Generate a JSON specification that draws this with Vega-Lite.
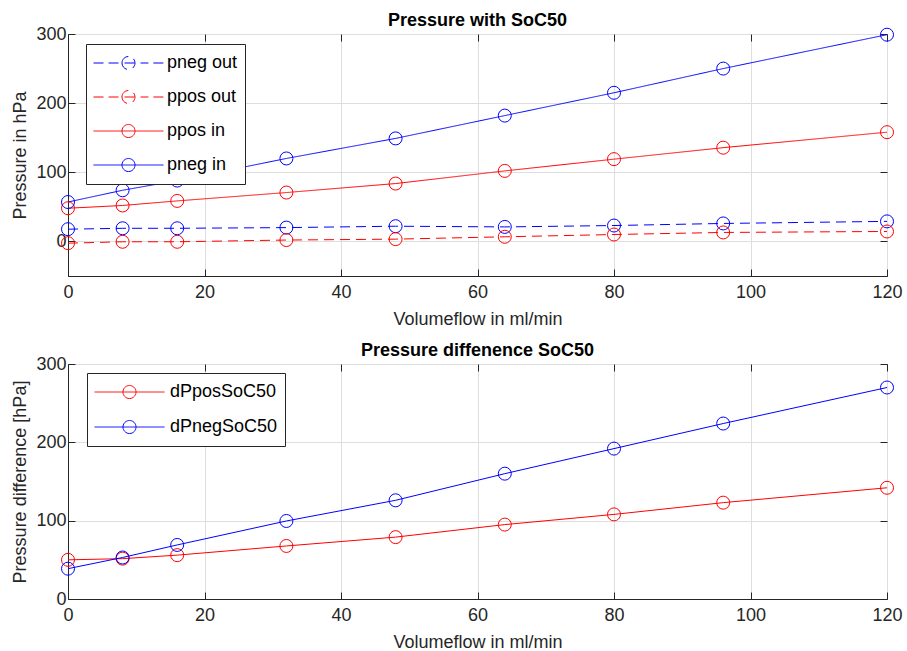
{
  "$schema": "https://vega.github.io/schema/vega-lite/v6.json",
  "padding": {"left": 11, "top": 11, "right": 2, "bottom": 0},
  "background": "white",
  "spacing": 12,
  "config": {
    "font": "Liberation Sans",
    "view": {"stroke": "#262626", "strokeWidth": 1},
    "axis": {
      "labelFont": "Liberation Sans", "labelFontSize": 18, "labelColor": "#262626",
      "titleFont": "Liberation Sans", "titleFontSize": 18, "titleFontWeight": "normal", "titleColor": "#262626",
      "domainColor": "#262626", "tickColor": "#262626", "tickSize": -7,
      "gridColor": "#dedede", "labelFlush": false, "titlePadding": 6
    },
    "axisX": {"labelPadding": 14.5, "titlePadding": 9},
    "axisY": {"labelPadding": 9, "titlePadding": 6},
    "title": {"font": "Liberation Sans", "fontSize": 18, "fontWeight": "bold", "color": "#000000", "offset": -5, "anchor": "middle"}
  },
  "datasets": {
    "top": [
      {"flow": 0, "series": "pneg out", "p": 17.7},
      {"flow": 8, "series": "pneg out", "p": 19},
      {"flow": 16, "series": "pneg out", "p": 19},
      {"flow": 32, "series": "pneg out", "p": 20},
      {"flow": 48, "series": "pneg out", "p": 22},
      {"flow": 64, "series": "pneg out", "p": 21},
      {"flow": 80, "series": "pneg out", "p": 23},
      {"flow": 96, "series": "pneg out", "p": 26},
      {"flow": 120, "series": "pneg out", "p": 29},
      {"flow": 0, "series": "ppos out", "p": -2.5},
      {"flow": 8, "series": "ppos out", "p": -0.5},
      {"flow": 16, "series": "ppos out", "p": -0.5},
      {"flow": 32, "series": "ppos out", "p": 2},
      {"flow": 48, "series": "ppos out", "p": 3.3},
      {"flow": 64, "series": "ppos out", "p": 6.7},
      {"flow": 80, "series": "ppos out", "p": 10},
      {"flow": 96, "series": "ppos out", "p": 13},
      {"flow": 120, "series": "ppos out", "p": 14.4},
      {"flow": 0, "series": "ppos in", "p": 48},
      {"flow": 8, "series": "ppos in", "p": 52},
      {"flow": 16, "series": "ppos in", "p": 58.6},
      {"flow": 32, "series": "ppos in", "p": 70.7},
      {"flow": 48, "series": "ppos in", "p": 83.7},
      {"flow": 64, "series": "ppos in", "p": 102},
      {"flow": 80, "series": "ppos in", "p": 119},
      {"flow": 96, "series": "ppos in", "p": 135.6},
      {"flow": 120, "series": "ppos in", "p": 158},
      {"flow": 0, "series": "pneg in", "p": 57},
      {"flow": 8, "series": "pneg in", "p": 74},
      {"flow": 16, "series": "pneg in", "p": 88},
      {"flow": 32, "series": "pneg in", "p": 120},
      {"flow": 48, "series": "pneg in", "p": 149},
      {"flow": 64, "series": "pneg in", "p": 182},
      {"flow": 80, "series": "pneg in", "p": 215},
      {"flow": 96, "series": "pneg in", "p": 250},
      {"flow": 120, "series": "pneg in", "p": 299}
    ],
    "bottom": [
      {"flow": 0, "series": "dPposSoC50", "p": 50},
      {"flow": 8, "series": "dPposSoC50", "p": 51.5},
      {"flow": 16, "series": "dPposSoC50", "p": 56},
      {"flow": 32, "series": "dPposSoC50", "p": 67.7},
      {"flow": 48, "series": "dPposSoC50", "p": 79},
      {"flow": 64, "series": "dPposSoC50", "p": 95},
      {"flow": 80, "series": "dPposSoC50", "p": 108},
      {"flow": 96, "series": "dPposSoC50", "p": 123},
      {"flow": 120, "series": "dPposSoC50", "p": 142},
      {"flow": 0, "series": "dPnegSoC50", "p": 38.7},
      {"flow": 8, "series": "dPnegSoC50", "p": 53},
      {"flow": 16, "series": "dPnegSoC50", "p": 69},
      {"flow": 32, "series": "dPnegSoC50", "p": 99.6},
      {"flow": 48, "series": "dPnegSoC50", "p": 126},
      {"flow": 64, "series": "dPnegSoC50", "p": 160},
      {"flow": 80, "series": "dPnegSoC50", "p": 192},
      {"flow": 96, "series": "dPnegSoC50", "p": 224},
      {"flow": 120, "series": "dPnegSoC50", "p": 270}
    ]
  },
  "resolve": {
    "scale": {"x": "independent", "y": "independent", "color": "independent", "strokeDash": "independent"},
    "legend": {"color": "independent"}
  },
  "vconcat": [
    {
      "width": 819,
      "height": 242,
      "title": {"text": "Pressure with SoC50"},
      "data": {"name": "top"},
      "resolve": {"axis": {"x": "independent", "y": "independent"}},
      "layer": [
        {
          "mark": {"type": "line", "strokeWidth": 1},
          "encoding": {
            "x": {"field": "flow", "type": "quantitative",
                  "scale": {"domain": [0, 120], "nice": false, "zero": false},
                  "axis": {"orient": "bottom", "values": [0, 20, 40, 60, 80, 100, 120], "title": "Volumeflow in ml/min", "grid": true}},
            "y": {"field": "p", "type": "quantitative",
                  "scale": {"domain": [-50, 300], "nice": false, "zero": false},
                  "axis": {"orient": "left", "values": [0, 100, 200, 300], "title": "Pressure in hPa", "grid": true}},
            "color": {"field": "series", "type": "nominal",
                      "scale": {"domain": ["pneg out", "ppos out", "ppos in", "pneg in"], "range": ["#0000ff", "#ff0000", "#ff0000", "#0000ff"]},
                      "legend": {
                        "orient": "none", "legendX": 18, "legendY": 10, "title": null,
                        "strokeColor": "#262626", "fillColor": "white", "padding": 7,
                        "symbolSize": 4900, "clipHeight": 24, "rowPadding": 10, "labelOffset": 3,
                        "labelFont": "Liberation Sans", "labelFontSize": 18, "labelColor": "#000000",
                        "symbolStrokeWidth": 1,
                        "encode": {"symbols": {"update": {
                          "fill": {"value": "transparent"},
                          "strokeDash": {"value": [1, 0]},
                          "shape": {"signal": "indexof(datum.value, 'out') >= 0 ? 'M-1,0H-0.71M-0.57,0H0.57M0.71,0H1M-0.186,0A0.186,0.186,0,1,1,0.186,0A0.186,0.186,0,1,1,-0.186,0' : 'M-1,0H1M-0.186,0A0.186,0.186,0,1,1,0.186,0A0.186,0.186,0,1,1,-0.186,0'"}
                        }}}
                      }},
            "strokeDash": {"field": "series", "type": "nominal",
                           "scale": {"domain": ["pneg out", "ppos out", "ppos in", "pneg in"], "range": [[10, 6], [10, 6], [1, 0], [1, 0]]},
                           "legend": null}
          }
        },
        {
          "mark": {"type": "point", "shape": "circle", "filled": false, "size": 169, "strokeWidth": 1, "opacity": 1},
          "encoding": {
            "x": {"field": "flow", "type": "quantitative",
                  "axis": {"orient": "top", "values": [0, 20, 40, 60, 80, 100, 120], "title": null, "labels": false, "grid": false, "domain": false}},
            "y": {"field": "p", "type": "quantitative",
                  "axis": {"orient": "right", "values": [0, 100, 200, 300], "title": null, "labels": false, "grid": false, "domain": false}},
            "color": {"field": "series", "type": "nominal"}
          }
        }
      ]
    },
    {
      "width": 819,
      "height": 235,
      "title": {"text": "Pressure diffenence SoC50"},
      "data": {"name": "bottom"},
      "resolve": {"axis": {"x": "independent", "y": "independent"}},
      "layer": [
        {
          "mark": {"type": "line", "strokeWidth": 1},
          "encoding": {
            "x": {"field": "flow", "type": "quantitative",
                  "scale": {"domain": [0, 120], "nice": false, "zero": false},
                  "axis": {"orient": "bottom", "values": [0, 20, 40, 60, 80, 100, 120], "title": "Volumeflow in ml/min", "grid": true}},
            "y": {"field": "p", "type": "quantitative",
                  "scale": {"domain": [0, 300], "nice": false},
                  "axis": {"orient": "left", "values": [0, 100, 200, 300], "title": "Pressure difference [hPa]", "grid": true}},
            "color": {"field": "series", "type": "nominal",
                      "scale": {"domain": ["dPposSoC50", "dPnegSoC50"], "range": ["#ff0000", "#0000ff"]},
                      "legend": {
                        "orient": "none", "legendX": 19, "legendY": 9, "title": null,
                        "strokeColor": "#262626", "fillColor": "white", "padding": 7,
                        "symbolSize": 4900, "clipHeight": 24, "rowPadding": 11, "labelOffset": 5,
                        "labelFont": "Liberation Sans", "labelFontSize": 18, "labelColor": "#000000",
                        "symbolStrokeWidth": 1,
                        "encode": {"symbols": {"update": {
                          "fill": {"value": "transparent"},
                          "strokeDash": {"value": [1, 0]},
                          "shape": {"value": "M-1,0H1M-0.186,0A0.186,0.186,0,1,1,0.186,0A0.186,0.186,0,1,1,-0.186,0"}
                        }}}
                      }}
          }
        },
        {
          "mark": {"type": "point", "shape": "circle", "filled": false, "size": 169, "strokeWidth": 1, "opacity": 1},
          "encoding": {
            "x": {"field": "flow", "type": "quantitative",
                  "axis": {"orient": "top", "values": [0, 20, 40, 60, 80, 100, 120], "title": null, "labels": false, "grid": false, "domain": false}},
            "y": {"field": "p", "type": "quantitative",
                  "axis": {"orient": "right", "values": [0, 100, 200, 300], "title": null, "labels": false, "grid": false, "domain": false}},
            "color": {"field": "series", "type": "nominal"}
          }
        }
      ]
    }
  ]
}
